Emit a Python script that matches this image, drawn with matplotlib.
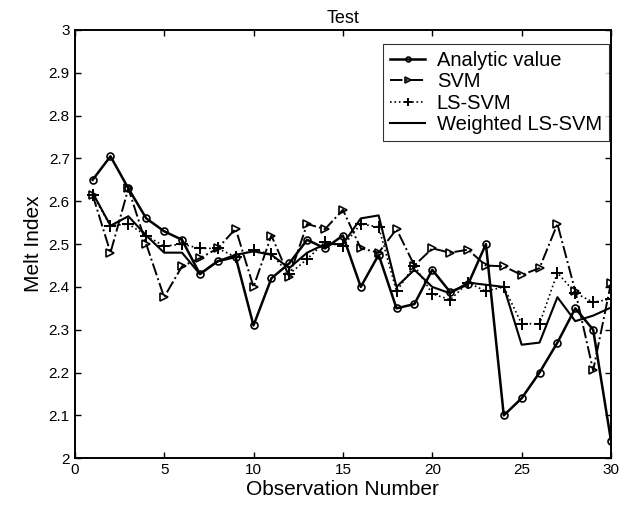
import matplotlib
matplotlib.use("Agg")
import matplotlib.pyplot as plt
import numpy as np

plt.rcParams['font.family'] = ['Liberation Sans', 'DejaVu Sans']

obs = np.arange(1, 31)

analytic = [2.65, 2.705, 2.63, 2.56, 2.53, 2.51, 2.43, 2.46, 2.47, 2.31,
            2.42, 2.455, 2.51, 2.49, 2.52, 2.40, 2.475, 2.35, 2.36, 2.44,
            2.388, 2.406, 2.50, 2.10, 2.14, 2.20, 2.27, 2.35, 2.30, 2.04]
svm = [2.615, 2.48, 2.63, 2.50, 2.376, 2.448, 2.467, 2.49, 2.536, 2.40,
       2.52, 2.424, 2.547, 2.535, 2.58, 2.49, 2.48, 2.535, 2.45, 2.49,
       2.48, 2.487, 2.45, 2.448, 2.428, 2.444, 2.547, 2.39, 2.205, 2.41]
ls_svm = [2.615, 2.543, 2.547, 2.52, 2.495, 2.50, 2.49, 2.49, 2.47, 2.487,
          2.476, 2.43, 2.465, 2.505, 2.495, 2.547, 2.54, 2.39, 2.45, 2.384,
          2.37, 2.41, 2.39, 2.40, 2.314, 2.314, 2.433, 2.386, 2.364, 2.372]
weighted = [2.62, 2.543, 2.565, 2.52, 2.48, 2.48, 2.43, 2.46, 2.475, 2.483,
            2.475, 2.444, 2.48, 2.50, 2.50, 2.56, 2.567, 2.40, 2.44, 2.40,
            2.385, 2.41, 2.405, 2.40, 2.265, 2.27, 2.376, 2.32, 2.333, 2.352]

fig = plt.figure(figsize=(6.28, 5.08), dpi=100)
ax = fig.add_axes([0.119, 0.098, 0.854, 0.843])

ax.plot(obs, analytic, '-', color='black', lw=1.8, marker='o', ms=5,
        mfc='none', mew=1.2, label='Analytic value')
ax.plot(obs, svm, '-.', color='black', lw=1.4, marker='>', ms=6,
        mfc='none', mew=1.2, label='SVM')
ax.plot(obs, ls_svm, ':', color='black', lw=1.2, marker='+', ms=9,
        mew=1.4, label='LS-SVM')
ax.plot(obs, weighted, '-', color='black', lw=1.5, label='Weighted LS-SVM')

ax.set_xlim(0, 30)
ax.set_ylim(2, 3)
ax.set_xticks(np.arange(0, 31, 5))
ax.set_yticks(np.arange(2, 3.01, 0.1))
ax.set_yticklabels(['2', '2.1', '2.2', '2.3', '2.4', '2.5', '2.6', '2.7',
                    '2.8', '2.9', '3'])
ax.tick_params(direction='in', top=True, right=True, length=4, width=1,
               labelsize=11)
for s in ax.spines.values():
    s.set_linewidth(1.4)

ax.set_xlabel('Observation Number', fontsize=15, labelpad=2)
ax.set_ylabel('Melt Index', fontsize=15, labelpad=4)
ax.set_title('Test', fontsize=13, pad=5)

leg = ax.legend(loc='upper right', bbox_to_anchor=(0.996, 0.968),
                fontsize=14.5, frameon=True, fancybox=False,
                handlelength=1.7, handletextpad=0.6, markerscale=0.7,
                borderaxespad=0, labelspacing=0.12, borderpad=0.35)
leg.get_frame().set_edgecolor('black')
leg.get_frame().set_linewidth(0.8)

fig.savefig('out.png', dpi=100)
